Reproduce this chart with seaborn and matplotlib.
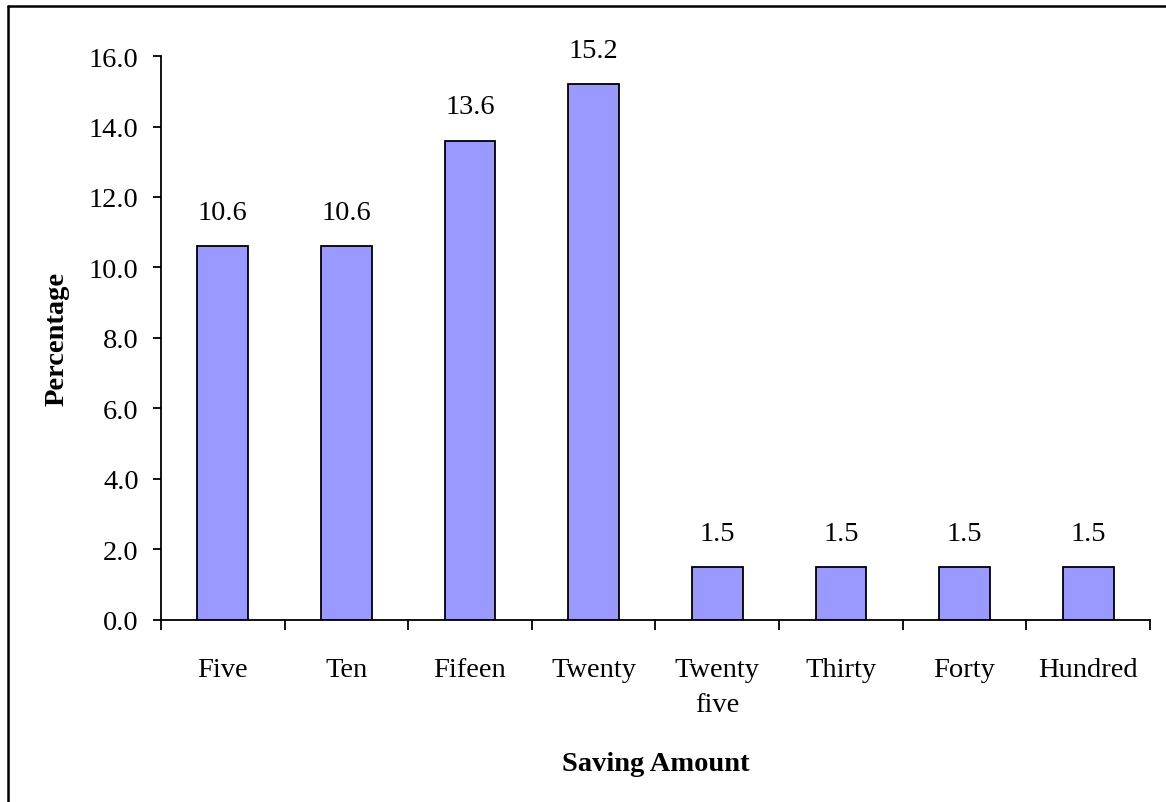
import matplotlib
matplotlib.use("Agg")
import matplotlib.pyplot as plt
import seaborn as sns
import pandas as pd
import numpy as np
from matplotlib.lines import Line2D

categories = ["Five", "Ten", "Fifeen", "Twenty", "Twenty\nfive", "Thirty", "Forty", "Hundred"]
percentages = [10.6, 10.6, 13.6, 15.2, 1.5, 1.5, 1.5, 1.5]
y_ticks = [0, 2, 4, 6, 8, 10, 12, 14, 16]

sns.set_style("white")
plt.rcParams["font.family"] = ["Liberation Serif", "DejaVu Serif"]
plt.rcParams["text.color"] = "black"
plt.rcParams["axes.labelcolor"] = "black"
plt.rcParams["xtick.color"] = "black"
plt.rcParams["ytick.color"] = "black"

FS = 20.5

df = pd.DataFrame({"Saving Amount": categories, "Percentage": percentages})

fig = plt.figure(figsize=(11.66, 8.03), dpi=100)
ax = fig.add_axes([0.138, 0.2267, 0.8483, 0.7023])

sns.barplot(data=df, x="Saving Amount", y="Percentage", ax=ax,
            color="#9999FF", saturation=1, width=0.41,
            edgecolor="black", linewidth=1.3)

for i, v in enumerate(percentages):
    ax.text(i, v + 0.6, f"{v:.1f}", ha="center", va="bottom", fontsize=FS, color="black")

ax.set_xlim(-0.5, len(categories) - 0.5)
ax.set_ylim(0, 16)
ax.set_yticks(y_ticks)
ax.set_yticklabels([f"{t:.1f}" for t in y_ticks], fontsize=FS)

# category boundaries carry tick marks, centres carry the labels
ax.set_xticks(np.arange(len(categories) + 1) - 0.5)
ax.set_xticklabels([])
ax.set_xticks(np.arange(len(categories)), minor=True)
ax.set_xticklabels(categories, minor=True, fontsize=FS, linespacing=1.55, va="top")
ax.tick_params(axis="x", which="major", direction="out", length=7, width=1.3, color="black", bottom=True)
ax.tick_params(axis="x", which="minor", length=0, pad=26.5)
ax.tick_params(axis="y", direction="out", length=6, width=1.3, color="black", left=True, pad=10)

for side in ["top", "right"]:
    ax.spines[side].set_visible(False)
for side in ["left", "bottom"]:
    ax.spines[side].set_color("black")
    ax.spines[side].set_linewidth(1.3)

ax.set_xlabel("Saving Amount", fontsize=FS, fontweight="bold", labelpad=24)
ax.set_ylabel("Percentage", fontsize=FS, fontweight="bold", labelpad=14)

# frame lines along the left and top edges
x0 = 7.5 / 1166
y0 = 1 - 6.5 / 803
fig.add_artist(Line2D([x0, x0], [0, y0], transform=fig.transFigure, color="black", linewidth=1.8))
fig.add_artist(Line2D([x0, 1], [y0, y0], transform=fig.transFigure, color="black", linewidth=1.8))

fig.savefig("out.png", dpi=100)
